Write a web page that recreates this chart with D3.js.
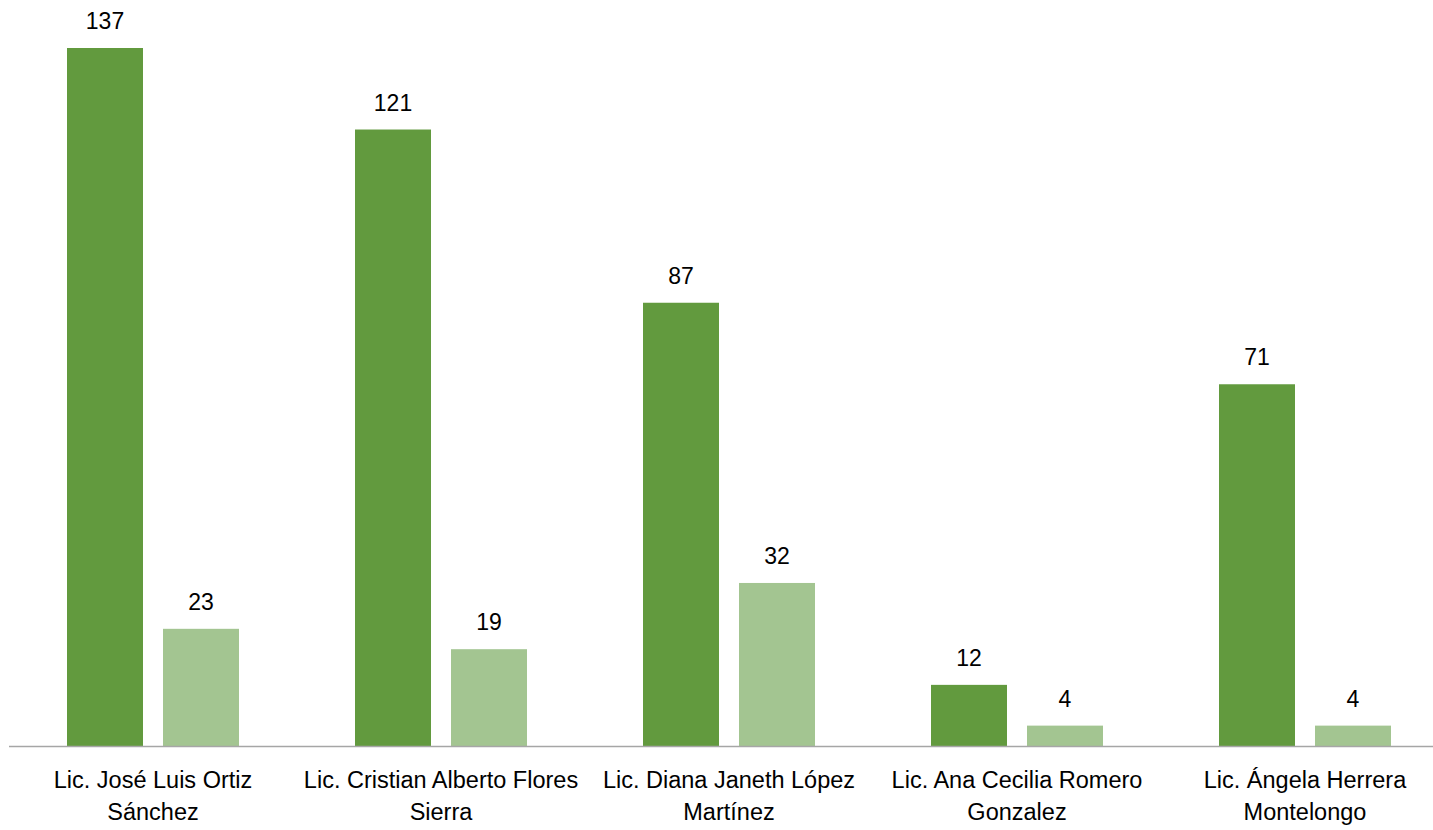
<!DOCTYPE html>
<html>
<head>
<meta charset="utf-8">
<script src="https://cdn.jsdelivr.net/npm/d3@7"></script>
<style>
  body { margin: 0; background: #fff; }
  text { font-family: "Liberation Sans", Arial, sans-serif; fill: #000; }
</style>
</head>
<body>
<div id="chart"></div>
<script>
// Data
const categories = [
  ["Lic. José Luis Ortiz", "Sánchez"],
  ["Lic. Cristian Alberto Flores", "Sierra"],
  ["Lic. Diana Janeth López", "Martínez"],
  ["Lic. Ana Cecilia Romero", "Gonzalez"],
  ["Lic. Ángela Herrera", "Montelongo"]
];
const seriesA = [137, 121, 87, 12, 71];
const seriesB = [23, 19, 32, 4, 4];

const chart = () => {
  let width = 1433;
  let height = 830;
  let baseline = 746;
  let colors = ["#629A3E", "#A3C591"];

  let svg = d3.select("#chart")
    .append("svg")
      .attr("width", width)
      .attr("height", height);

  let x = d3.scaleBand()
    .domain(d3.range(categories.length))
    .range([9, 1449])
    .paddingInner(0)
    .paddingOuter(0);

  // two bars per group, 76px wide with 20px gap
  let inner = d3.scaleBand()
    .domain([0, 1])
    .range([58, 230])
    .paddingInner(20 / 96);

  let y = d3.scaleLinear()
    .domain([0, 137])
    .range([baseline, 48]);

  let rows = categories.map((c, i) => ({ i: i, vals: [seriesA[i], seriesB[i]] }));

  let groups = svg.append("g")
    .selectAll("g")
    .data(rows)
    .enter().append("g")
      .attr("transform", d => "translate(" + x(d.i) + ",0)");

  let bars = groups.selectAll("g.bar")
    .data(d => d.vals.map((v, k) => ({ v: v, k: k })))
    .enter().append("g")
      .classed("bar", true);

  bars.append("rect")
    .attr("x", d => inner(d.k))
    .attr("width", inner.bandwidth())
    .attr("y", d => y(d.v))
    .attr("height", d => baseline - y(d.v))
    .attr("fill", d => colors[d.k]);

  bars.append("text")
    .attr("x", d => inner(d.k) + inner.bandwidth() / 2)
    .attr("y", d => y(d.v) - 19)
    .attr("text-anchor", "middle")
    .attr("font-size", 23)
    .text(d => d.v);

  // axis line
  svg.append("line")
    .attr("x1", 9)
    .attr("x2", width)
    .attr("y1", baseline + 0.5)
    .attr("y2", baseline + 0.5)
    .attr("stroke", "#A6A6A6")
    .attr("stroke-width", 1.5);

  // category labels
  let labels = groups.append("text")
    .attr("text-anchor", "middle")
    .attr("font-size", 23.5);

  labels.selectAll("tspan")
    .data(d => categories[d.i])
    .enter().append("tspan")
      .attr("x", x.bandwidth() / 2)
      .attr("y", (d, j) => 788 + j * 32)
      .text(d => d);
};

chart();
</script>
</body>
</html>
